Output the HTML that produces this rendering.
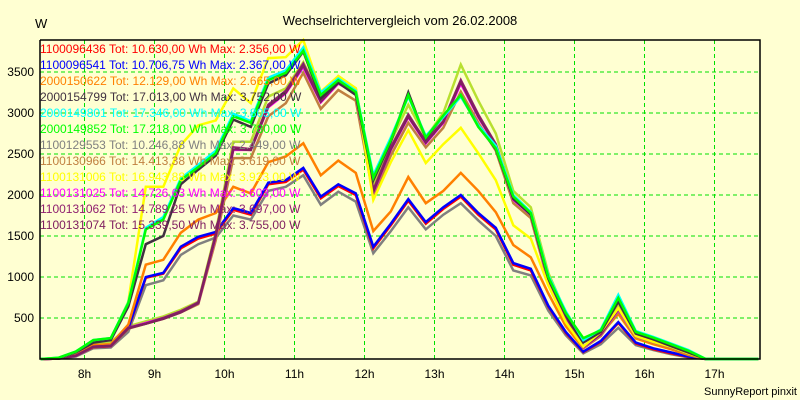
<!DOCTYPE html>
<html><head><meta charset="utf-8"><style>
html,body{margin:0;padding:0;background:#ffffd2;}
svg{display:block;font-family:"Liberation Sans",sans-serif;}
</style></head><body>
<svg id="chart" width="800" height="400">
<rect x="0" y="0" width="800" height="400" fill="#ffffd2"/>
<text x="400" y="25" text-anchor="middle" font-size="13" fill="#000">Wechselrichtervergleich vom 26.02.2008</text>
<text x="35" y="28" font-size="13" fill="#000">W</text>
<text x="797" y="395" text-anchor="end" font-size="11" fill="#000">SunnyReport pinxit</text>
<g id="grid"></g><g id="series"></g><g id="axes"></g><g id="legend"></g>
</svg>
<script>
const hourLabels = ["8h","9h","10h","11h","12h","13h","14h","15h","16h","17h"];
const hourValues = [8,9,10,11,12,13,14,15,16,17];
const yTicks = [500,1000,1500,2000,2500,3000,3500];
const sampleStartHour = 7.375; // first sample at 7:22:30, 15-min spacing
const seriesNames = ["1100096436","1100096541","2000150622","2000154799","2000149801","2000149852","1100129553","1100130966","1100131006","1100131025","1100131062","1100131074"];
const seriesTot = ["10.630,00","10.706,75","12.129,00","17.013,00","17.346,00","17.218,00","10.246,88","14.413,38","16.943,88","14.726,63","14.789,25","15.339,50"];
const seriesMax = ["2.356,00","2.367,00","2.665,00","3.752,00","3.805,00","3.780,00","2.449,00","3.619,00","3.923,00","3.603,00","3.697,00","3.755,00"];
const seriesColors = ["#ff0000","#0000ff","#ff8000","#403040","#00ffff","#00ff00","#808080","#c08040","#ffff00","#ff00ff","#902070","#802060"];
const red = [0,5,40,145,155,370,990,1040,1350,1470,1530,1820,1760,2130,2160,2310,1960,2110,2000,1350,1630,1930,1650,1830,1980,1760,1580,1150,1080,640,320,85,210,440,190,120,70,25,0,0,0,0];
const blue = [0,5,40,150,160,380,1000,1050,1370,1490,1550,1840,1780,2150,2180,2330,1980,2130,2020,1370,1650,1950,1670,1850,2000,1780,1600,1170,1100,650,330,90,220,450,200,130,80,30,0,0,0,0];
const orange = [0,5,50,170,180,420,1150,1210,1540,1700,1780,2100,2020,2400,2470,2630,2240,2420,2270,1560,1800,2220,1900,2050,2270,2050,1790,1390,1240,800,400,130,300,550,250,180,120,50,0,0,0,0];
const dark = [0,10,80,200,230,640,1400,1500,2130,2310,2480,2920,2830,3360,3460,3750,3180,3370,3220,2180,2650,3250,2690,2960,3210,2840,2560,1960,1760,980,540,200,330,700,310,240,160,80,0,0,0,0];
const cyan = [0,15,90,230,255,690,1600,1730,2200,2370,2540,2990,2900,3430,3520,3800,3250,3420,3270,2240,2700,3200,2720,2950,3200,2850,2600,2000,1790,1020,580,230,360,780,340,270,190,110,0,0,0,0];
const green = [0,15,90,230,255,680,1580,1700,2180,2340,2510,2960,2880,3400,3490,3760,3220,3400,3255,2210,2670,3220,2700,2970,3220,2830,2570,1980,1780,1000,560,255,350,745,330,260,180,100,0,0,0,0];
const gray = [0,5,30,130,140,330,900,960,1270,1400,1480,1750,1700,2050,2100,2240,1880,2040,1920,1290,1560,1850,1580,1760,1900,1690,1500,1080,1020,590,290,70,180,380,170,110,60,20,0,0,0,0];
const brown = [0,5,40,150,160,370,430,490,570,670,1450,2450,2450,2960,3120,3490,3050,3280,3150,1990,2480,2880,2580,2820,3260,2880,2540,1900,1720,930,500,130,280,580,270,200,140,60,0,0,0,0];
const yellow = [0,10,80,210,240,700,2100,2100,2610,2850,2910,3300,3120,3670,3680,3890,3260,3450,3300,1940,2400,2790,2390,2620,2820,2510,2180,1630,1470,900,450,150,330,620,280,210,150,70,0,0,0,0];
const magenta = [0,5,40,150,160,380,440,500,580,680,1500,2550,2550,3070,3240,3560,3130,3360,3240,2030,2550,2950,2630,2880,3360,2950,2600,1940,1760,960,520,140,300,600,280,210,150,70,0,0,0,0];
const purple = [0,5,40,150,160,380,430,500,580,690,1520,2580,2560,3100,3270,3600,3160,3390,3260,2060,2580,2980,2650,2900,3400,2980,2620,1960,1780,980,530,150,310,620,290,220,150,70,0,0,0,0];
const purple2 = [0,5,40,150,160,375,430,490,570,680,1510,2560,2550,3080,3250,3580,3140,3370,3250,2040,2560,2960,2640,2890,3380,2960,2610,1950,1770,970,525,145,305,610,285,215,150,70,0,0,0,0];
const yellowGreen = [0,10,60,180,200,400,460,520,600,700,1550,2650,2650,3200,3300,3620,3180,3450,3300,2100,2650,3100,2700,3000,3590,3150,2750,2050,1850,1050,560,150,320,650,300,230,160,80,0,0,0,0];

const seriesData = [red,blue,orange,dark,cyan,green,gray,brown,yellow,magenta,purple,purple2];
const NS="http://www.w3.org/2000/svg";
const L=40,R=760,T=40,B=359;
function xScale(h){return 84.5+(h-8)*70;}
function yScale(v){return B-v*0.082;}
function mk(tag,attrs,parent){const e=document.createElementNS(NS,tag);for(const k in attrs)e.setAttribute(k,attrs[k]);parent.appendChild(e);return e;}
const grid=document.getElementById('grid'),ser=document.getElementById('series'),axes=document.getElementById('axes'),leg=document.getElementById('legend');
yTicks.forEach(v=>{
 const y=yScale(v);
 const gl=mk('line',{x1:L,x2:R,y1:y,y2:y,stroke:'#00e000','stroke-dasharray':'4,3','stroke-width':1},grid);
 
 
 const t=mk('text',{x:34,y:y+4,'text-anchor':'end','font-size':12,fill:'#000'},axes);
 t.textContent=v;
 
 
});
hourValues.forEach((h,i)=>{
 const x=xScale(h);
 const gl=mk('line',{x1:x,x2:x,y1:T,y2:B,stroke:'#00e000','stroke-dasharray':'4,3','stroke-width':1},grid);
 
 
 const t=mk('text',{x:x,y:378,'text-anchor':'middle','font-size':12,fill:'#000'},axes);
 t.textContent=hourLabels[i];
 
 
});
function drawLine(arr,color,name){
 const pts=arr.map((v,i)=>xScale(sampleStartHour+i*0.25).toFixed(1)+','+yScale(v).toFixed(1)).join(' ');
 const p=mk('polyline',{points:pts,fill:'none',stroke:color,'stroke-width':2.5,'stroke-linejoin':'miter'},ser);
 
 
}
const order=[6,0,1,2,7,9,10,11,8,3,4,5];
drawLine(yellowGreen,'#b8e030','series-extra-yellowgreen');
order.forEach(i=>drawLine(seriesData[i],seriesColors[i],'series-'+seriesNames[i]));
const frame=mk('polyline',{points:`${L},${T} ${R},${T} ${R},${B} ${L},${B} ${L},${T}`,fill:'none',stroke:'#000','stroke-width':1.5},axes);


seriesNames.forEach((n,i)=>{
 const t=mk('text',{x:40,y:53+i*16,'font-size':12,fill:seriesColors[i]},leg);
 t.textContent=n+' Tot: '+seriesTot[i]+' Wh Max: '+seriesMax[i]+' W';
 
 
});
</script>
</body></html>
